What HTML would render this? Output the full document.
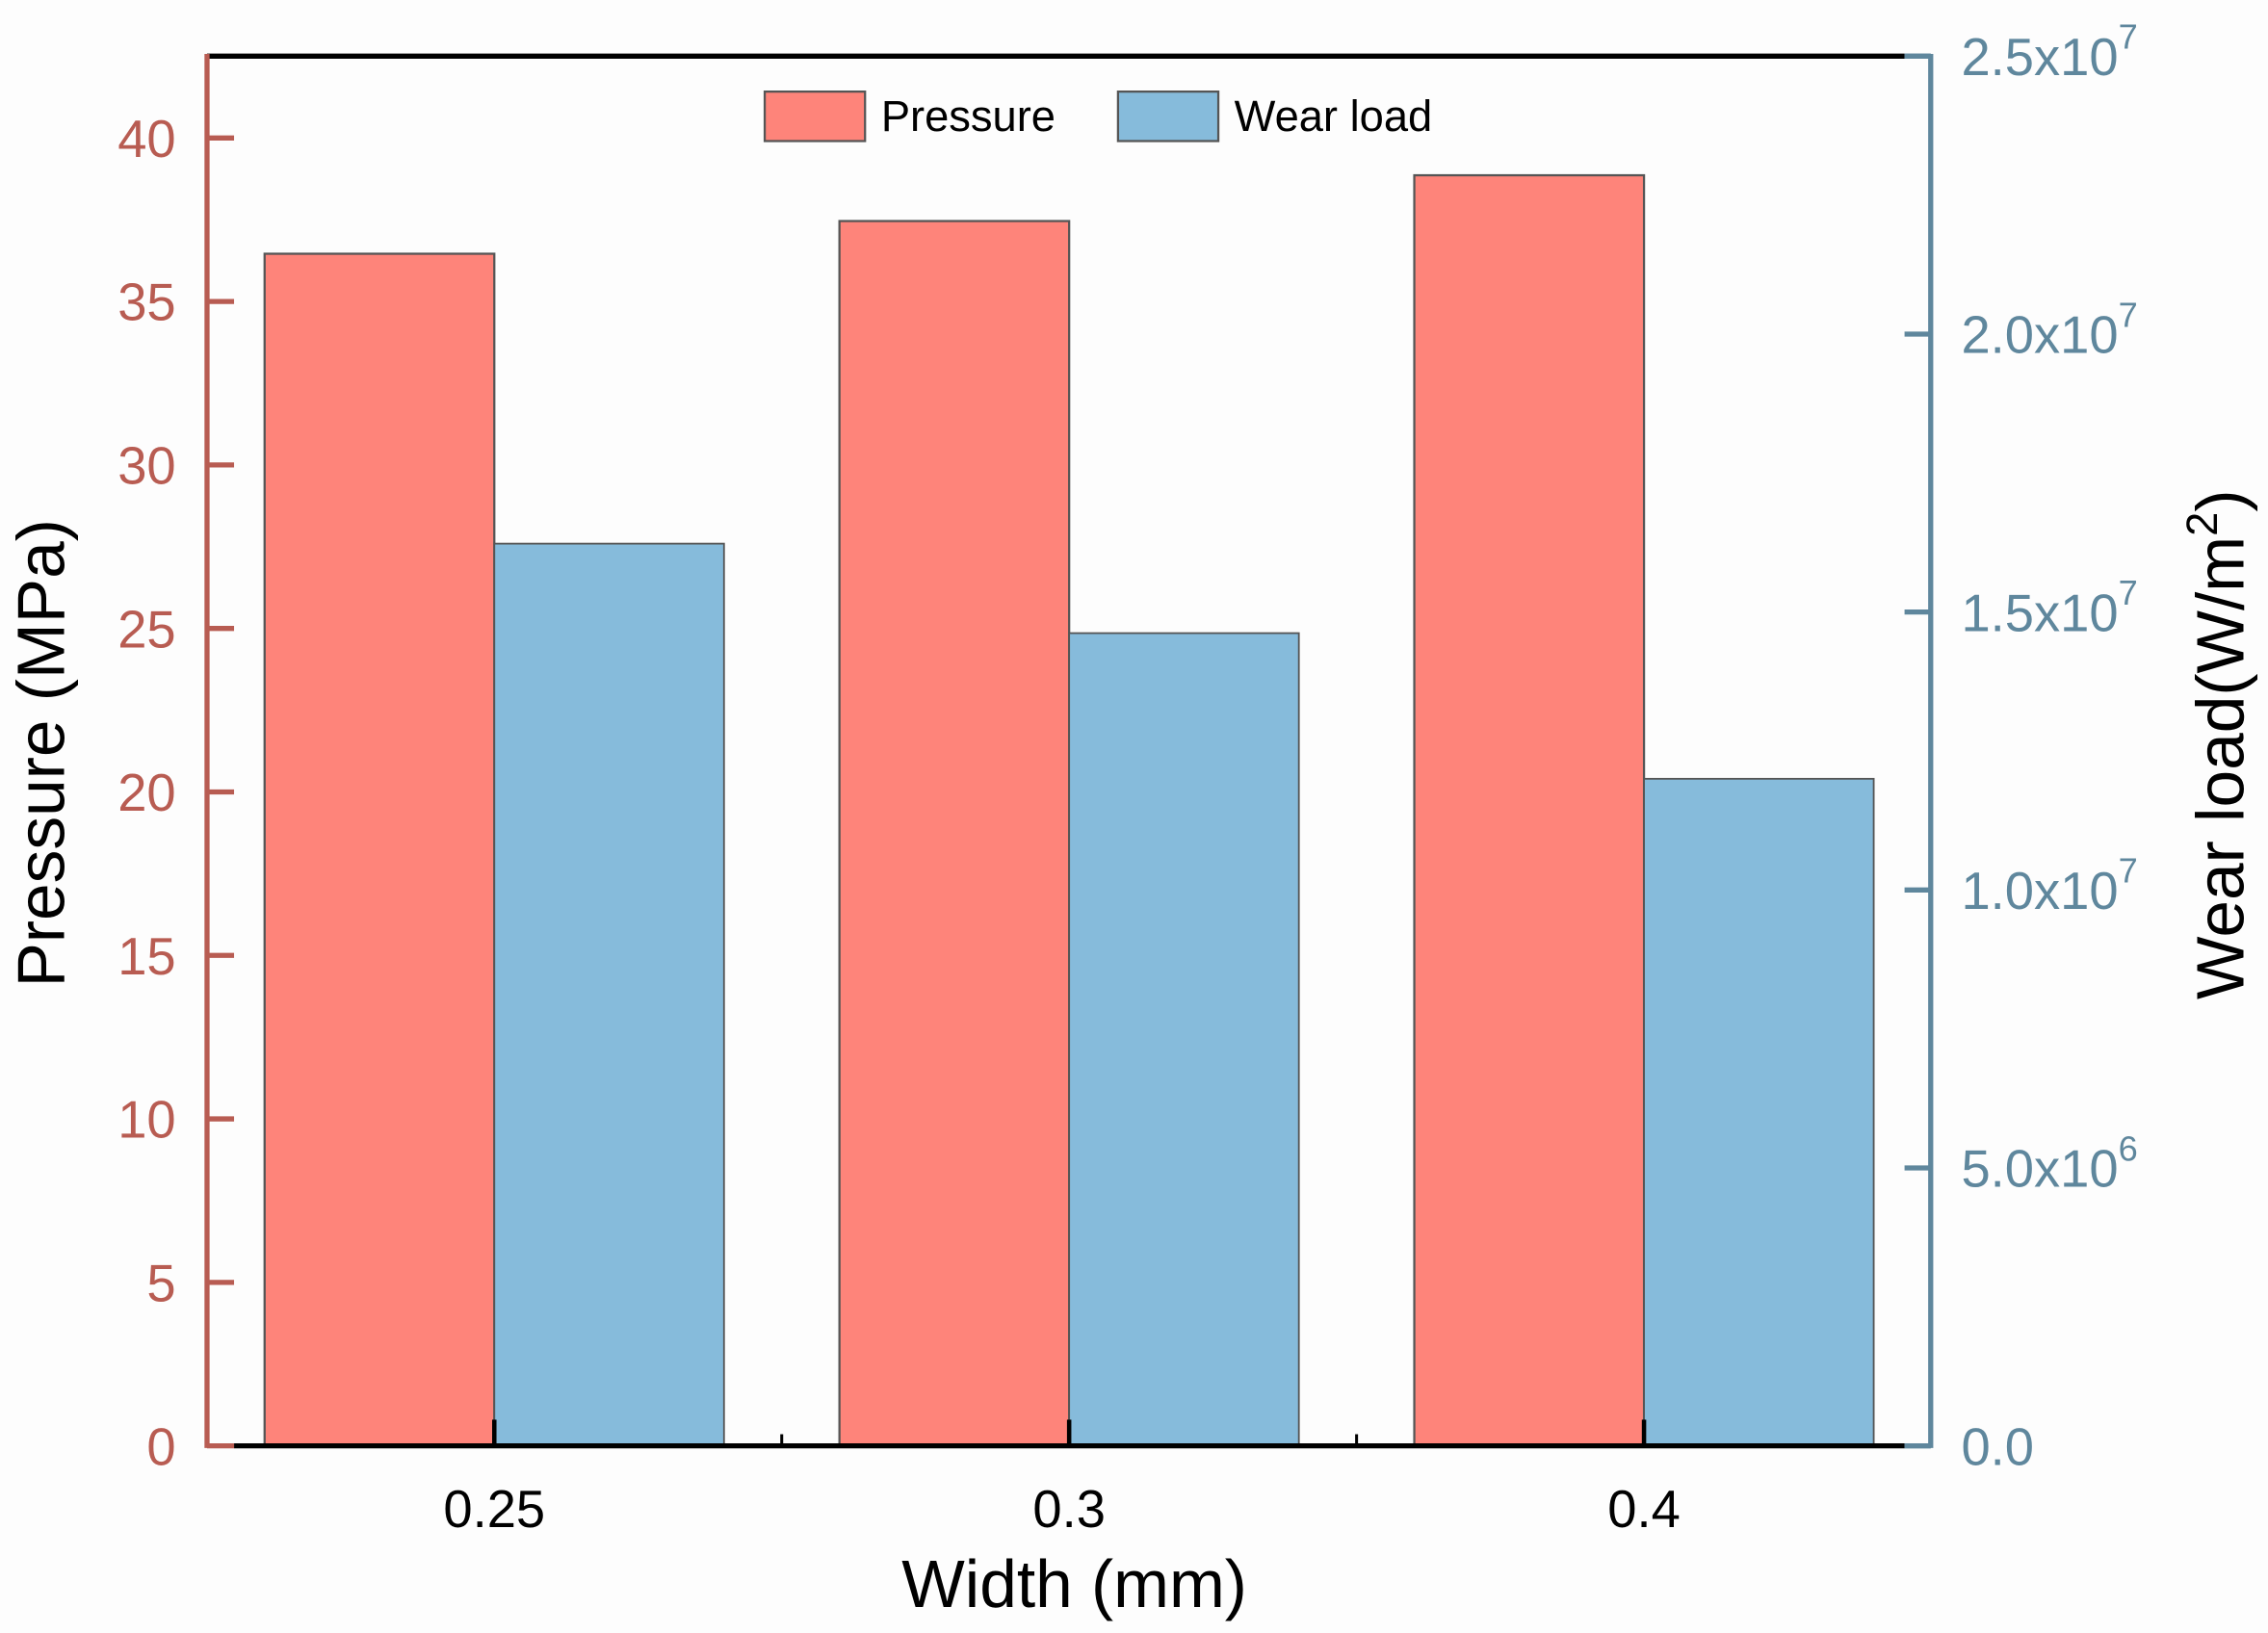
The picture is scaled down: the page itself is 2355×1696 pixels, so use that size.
<!DOCTYPE html>
<html><head><meta charset="utf-8"><style>
html,body{margin:0;padding:0;background:#fdfdfd}
svg{display:block}
text{font-family:"Liberation Sans",Arial,sans-serif}
</style></head><body>
<svg id="chart" width="2355" height="1696" viewBox="0 0 1560 1123" preserveAspectRatio="none">
<rect x="0" y="0" width="1560" height="1123" fill="#fdfdfd"/>
<g id="bars"></g><g id="axes"></g>
</svg>
<script>
const categories=["0.25","0.3","0.4"];
const pressure=[36.46,37.46,38.86];
const wearLoad=[1.623e7,1.462e7,1.200e7];
const leftTicks=[0,5,10,15,20,25,30,35,40];
const rightTicks=[0,5e6,1e7,1.5e7,2e7,2.5e7];
const rightTickMant=["0.0","5.0x10","1.0x10","1.5x10","2.0x10","2.5x10"];
const rightTickExp=["","6","7","7","7","7"];

const NS="http://www.w3.org/2000/svg";
const L=142.4,R=1328,T=38.6,B=994.3;
const LMAX=(B-T)/((B-94.9)/40);
const yL=v=>B-v*(B-T)/LMAX;
const yR=v=>B-v*(B-T)/2.5e7;
const x0=340,step=395.4,bw=158;
const xCenter=i=>x0+i*step;
function mk(tag,attrs,parent,text){const e=document.createElementNS(NS,tag);for(const k in attrs)e.setAttribute(k,attrs[k]);if(text!==undefined)e.textContent=text;parent.appendChild(e);return e;}
const bars=document.getElementById('bars'),axes=document.getElementById('axes');
categories.forEach((c,i)=>{
  const cx=xCenter(i);
  let r=mk('rect',{x:cx-bw,y:yL(pressure[i]),width:bw,height:B-yL(pressure[i]),fill:'#FE847A',stroke:'#555',"stroke-width":1.5},bars);
  
  
  let w=mk('rect',{x:cx,y:yR(wearLoad[i]),width:bw,height:B-yR(wearLoad[i]),fill:'#86BBDB',stroke:'#555',"stroke-width":1.2},bars);
  
  
  let t=mk('text',{x:cx,y:1050,"font-size":36,"text-anchor":"middle",fill:'#000'},axes,c);
  
  
  mk('line',{x1:cx,y1:B,x2:cx,y2:B-18,stroke:'#000',"stroke-width":3},axes);
  if(i<2){const mx=cx+step/2;mk('line',{x1:mx,y1:B,x2:mx,y2:B-8,stroke:'#000',"stroke-width":2},axes);}
});
// frame
const bx0=161,bx1=1310;
mk('line',{x1:L,y1:T,x2:bx1,y2:T,stroke:'#000',"stroke-width":3.5},axes);
mk('line',{x1:bx1,y1:T,x2:R,y2:T,stroke:'#5F879D',"stroke-width":3.5},axes);
mk('line',{x1:bx0,y1:B,x2:bx1,y2:B,stroke:'#000',"stroke-width":3.5},axes);
mk('line',{x1:L,y1:T-1.5,x2:L,y2:B+1.5,stroke:'#B85C52',"stroke-width":3.5},axes);
mk('line',{x1:R,y1:T-1.5,x2:R,y2:B+1.5,stroke:'#5F879D',"stroke-width":3.5},axes);
mk('line',{x1:bx1,y1:B,x2:R,y2:B,stroke:'#5F879D',"stroke-width":3.5},axes);
leftTicks.forEach(v=>{
  mk('line',{x1:L,y1:yL(v),x2:L+18.6,y2:yL(v),stroke:'#B85C52',"stroke-width":3.5},axes);
  let t=mk('text',{x:121,y:yL(v)+13,"font-size":36,"text-anchor":"end",fill:'#B85C52'},axes,String(v));
  
  
});
rightTicks.forEach((v,i)=>{
  mk('line',{x1:R,y1:yR(v),x2:R-18,y2:yR(v),stroke:'#5F879D',"stroke-width":3.5},axes);
  let t=mk('text',{x:1349,y:yR(v)+13,"font-size":36,fill:'#5F879D'},axes,rightTickMant[i]);
  
  
  if(rightTickExp[i])mk('tspan',{dy:-18,"font-size":24},t,rightTickExp[i]);
});
</script>
<svg style="position:absolute;left:0;top:0" width="2355" height="1696" viewBox="0 0 1560 1123" preserveAspectRatio="none">
<text x="739" y="1105" font-size="46" text-anchor="middle" font-family="Liberation Sans">Width (mm)</text>
<text transform="translate(44,518) rotate(-90)" font-size="46" text-anchor="middle" font-family="Liberation Sans">Pressure (MPa)</text>
<text transform="translate(1543,512) rotate(-90)" font-size="46" text-anchor="middle" font-family="Liberation Sans">Wear load(W/m<tspan dy="-18" font-size="30">2</tspan><tspan dy="18">)</tspan></text>
<g>
<rect x="526" y="63" width="69" height="34" fill="#FE847A" stroke="#555" stroke-width="1.5"/>
<text x="606" y="90" font-size="30" font-family="Liberation Sans">Pressure</text>
<rect x="769" y="63" width="69" height="34" fill="#86BBDB" stroke="#555" stroke-width="1.5"/>
<text x="849" y="90" font-size="30" font-family="Liberation Sans">Wear load</text>
</g>
</svg>
</body></html>
